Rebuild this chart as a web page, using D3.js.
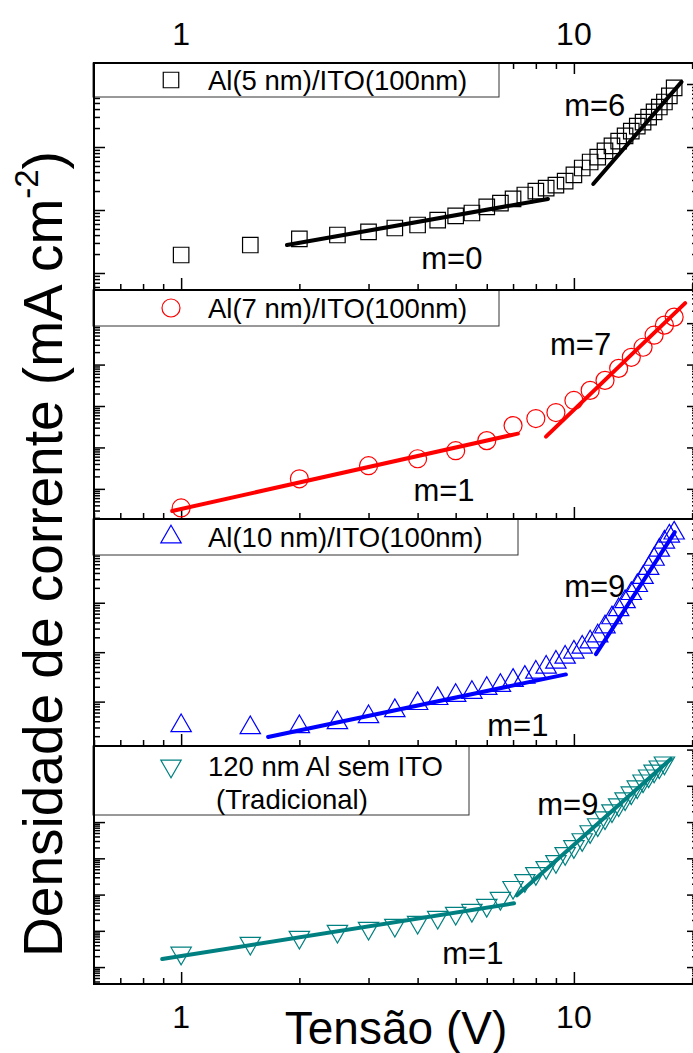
<!DOCTYPE html>
<html><head><meta charset="utf-8">
<script src="https://cdn.jsdelivr.net/npm/d3@7"></script>
<style>body{margin:0;background:#fff}svg{display:block}</style>
</head><body>
<script>
// ---------- data ----------
const xTickLabels = [1, 10];
const seriesNames = ["Al(5 nm)/ITO(100nm)", "Al(7 nm)/ITO(100nm)", "Al(10 nm)/ITO(100nm)", "120 nm Al sem ITO", "(Tradicional)"];

const volt1 = [1,1.5,2,2.5,3,3.5,4,4.5,5,5.5,6,6.5,7,7.5,8,8.5,9,9.5,10,10.5,11,11.5,12,12.5,13,13.5,14,14.5,15,15.5,16,16.5,17,17.5,18];
const curr1 = [1.93e-4,2.78e-4,3.47e-4,4.01e-4,4.48e-4,5.18e-4,5.78e-4,6.93e-4,8.04e-4,8.96e-4,1.12e-3,1.29e-3,1.50e-3,1.73e-3,2.00e-3,2.23e-3,2.49e-3,2.88e-3,3.60e-3,4.64e-3,5.78e-3,6.93e-3,8.65e-3,1.04e-2,1.24e-2,1.50e-2,1.79e-2,2.15e-2,2.49e-2,2.99e-2,3.60e-2,4.31e-2,5.18e-2,6.46e-2,8.65e-2];

const volt2 = [1,2,3,4,5,6,7,8,9,10,11,12,13,14,15,16,17,18];
const curr2 = [3.46e-5,1.75e-4,3.62e-4,5.33e-4,8.34e-4,1.46e-3,3.37e-3,4.98e-3,6.95e-3,1.36e-2,2.38e-2,4.15e-2,8.11e-2,0.150,0.262,0.512,0.895,1.40];

const volt3 = [1,1.5,2,2.5,3,3.5,4,4.5,5,5.5,6,6.5,7,7.5,8,8.5,9,9.5,10,10.5,11,11.5,12,12.5,13,13.5,14,14.5,15,15.5,16,16.5,17,17.5,18];
const curr3 = [3.24e-5,2.95e-5,3.09e-5,3.73e-5,4.94e-5,6.55e-5,9.10e-5,1.15e-4,1.33e-4,1.53e-4,1.84e-4,2.12e-4,2.68e-4,3.09e-4,3.91e-4,4.94e-4,6.25e-4,7.91e-4,1.0e-3,1.26e-3,1.60e-3,2.12e-3,3.24e-3,4.94e-3,7.20e-3,1.05e-2,1.53e-2,2.22e-2,3.24e-2,4.94e-2,7.55e-2,0.115,0.168,0.222,0.256];

const volt4 = [1,1.5,2,2.5,3,3.5,4,4.5,5,5.5,6,6.5,7,7.5,8,8.5,9,9.5,10,10.5,11,11.5,12,12.5,13,13.5,14,14.5,15,15.5,16,16.5,17];
const curr4 = [2.43e-4,4.56e-4,6.67e-4,9.75e-4,1.18e-3,1.43e-3,1.72e-3,2.37e-3,3.05e-3,3.68e-3,5.05e-3,7.87e-3,1.58e-2,2.45e-2,3.82e-2,5.59e-2,8.17e-2,0.136,0.211,0.328,0.545,0.849,1.32,2.06,3.01,4.40,6.42,9.39,13.7,18.8,25.8,33.3,42.9];

// fitted power-law segments [V, J]
const fit1 = [[[1.86,2.78e-4],[8.59,1.50e-3]], [[11.2,2.59e-3],[18.8,0.108]]];
const fit2 = [[[0.949,2.93e-5],[7.20,2.15e-3]], [[8.49,1.82e-3],[19.2,3.05]]];
const fit3 = [[[1.665,1.93e-5],[9.54,3.55e-4]], [[11.38,9.10e-4],[18.07,0.268]]];
const fit4 = [[[0.895,1.66e-4],[7.04,5.73e-3]], [[7.16,9.51e-3],[17.65,55.2]]];

// slope annotations [text, V, J]
const notes1 = [["m=6",11.3,4.48e-2],["m=0",4.89,1.73e-4]];
const notes2 = [["m=7",10.4,0.31],["m=1",4.67,8.95e-5]];
const notes3 = [["m=9",11.3,2.12e-2],["m=1",7.20,3.24e-5]];
const notes4 = [["m=9",9.65,3.0],["m=1",5.53,2.43e-4]];

// ---------- layout ----------
const W = 693, H = 1053;
const FONT = "'Liberation Sans', Arial, Helvetica, sans-serif";
const left = 94, right = 698;
const x = d3.scaleLog().domain([0.6, 20.7]).range([left, right]);

const panels = [
  {top:63,  bottom:290, e0:-4.2698, e1:-0.6667, v:volt1, j:curr1, fit:fit1, notes:notes1, color:"#000000", sym:"square",
   legend:{x1:93, x2:499, y1:63, y2:97, lines:[seriesNames[0]]}},
  {top:290, bottom:519, e0:-4.7273, e1:0.8,     v:volt2, j:curr2, fit:fit2, notes:notes2, color:"#ff0000", sym:"circle",
   legend:{x1:93, x2:499, y1:290, y2:326, lines:[seriesNames[1]]}},
  {top:519, bottom:746, e0:-4.898,  e1:-0.306,  v:volt3, j:curr3, fit:fit3, notes:notes3, color:"#0000ff", sym:"up",
   legend:{x1:93, x2:518, y1:519, y2:555, lines:[seriesNames[2]]}},
  {top:746, bottom:984, e0:-4.467,  e1:2.099,   v:volt4, j:curr4, fit:fit4, notes:notes4, color:"#008080", sym:"down",
   legend:{x1:93, x2:469, y1:746, y2:815, lines:[seriesNames[3], seriesNames[4]]}}
];

const svg = d3.select("body").append("svg").attr("width", W).attr("height", H)
  .style("font-family", FONT);

function marker(g, type, color, cx, cy) {
  if (type === "circle") {
    g.append("circle").attr("cx", cx).attr("cy", cy).attr("r", 9)
      .attr("fill", "none").attr("stroke", color).attr("stroke-width", 1.2);
  } else {
    const s = type === "square" ? d3.symbol(d3.symbolSquare, 240) : d3.symbol(d3.symbolTriangle, 180);
    g.append("path").attr("d", s())
      .attr("transform", `translate(${cx},${cy})` + (type === "down" ? " rotate(180)" : ""))
      .attr("fill", "none").attr("stroke", color).attr("stroke-width", 1.2);
  }
}

const xMinor = [0.6,0.7,0.8,0.9,2,3,4,5,6,7,8,9,20];
const xMajor = [1,10];

panels.forEach((p, i) => {
  const y = d3.scaleLog().domain([Math.pow(10, p.e0), Math.pow(10, p.e1)]).range([p.bottom, p.top]);
  const g = svg.append("g");
  const clipId = "clip" + i;
  svg.append("clipPath").attr("id", clipId).append("rect")
    .attr("x", left).attr("y", p.top).attr("width", right - left).attr("height", p.bottom - p.top);

  // y ticks
  const majors = [], minors = [];
  for (let e = Math.floor(p.e0); e <= Math.ceil(p.e1); e++) {
    for (let k = 1; k <= 9; k++) {
      const val = k * Math.pow(10, e);
      const lv = Math.log10(val);
      if (lv < p.e0 || lv > p.e1) continue;
      (k === 1 ? majors : minors).push(val);
    }
  }
  const axG = g.append("g");
  axG.append("g").attr("transform", `translate(${left},0)`).call(d3.axisRight(y).tickValues(majors).tickSize(11).tickFormat(""));
  axG.append("g").attr("transform", `translate(${left},0)`).call(d3.axisRight(y).tickValues(minors).tickSize(6).tickFormat(""));
  axG.append("g").attr("transform", `translate(${right},0)`).call(d3.axisLeft(y).tickValues(majors).tickSize(11).tickFormat(""));
  axG.append("g").attr("transform", `translate(${right},0)`).call(d3.axisLeft(y).tickValues(minors).tickSize(6).tickFormat(""));
  // x ticks on bottom (pointing up)
  axG.append("g").attr("transform", `translate(0,${p.bottom})`).call(d3.axisTop(x).tickValues(xMajor).tickSize(12).tickFormat(""));
  axG.append("g").attr("transform", `translate(0,${p.bottom})`).call(d3.axisTop(x).tickValues(xMinor).tickSize(6).tickFormat(""));
  if (i === 0) {
    axG.append("g").attr("transform", `translate(0,${p.top})`).call(d3.axisBottom(x).tickValues(xMajor).tickSize(11).tickFormat(""));
    axG.append("g").attr("transform", `translate(0,${p.top})`).call(d3.axisBottom(x).tickValues(xMinor).tickSize(6).tickFormat(""));
  }
  axG.selectAll(".domain").remove();
  axG.selectAll("line").attr("stroke", "#000").attr("stroke-width", 1.5);

  // data markers
  const dg = g.append("g").attr("clip-path", `url(#${clipId})`);
  p.v.forEach((v, k) => marker(dg, p.sym, p.color, x(v), y(p.j[k])));

  // fit lines
  const line = d3.line().x(d => x(d[0])).y(d => y(d[1]));
  p.fit.forEach(seg => {
    dg.append("path").attr("d", line(seg)).attr("fill", "none")
      .attr("stroke", p.color).attr("stroke-width", 4).attr("stroke-linecap", "round");
  });

  // slope labels
  p.notes.forEach(n => {
    g.append("text").attr("x", x(n[1])).attr("y", y(n[2]))
      .attr("text-anchor", "middle").attr("dominant-baseline", "central")
      .attr("font-size", 31).attr("fill", "#000").text(n[0]);
  });

  // legend
  const L = p.legend;
  g.append("rect").attr("x", L.x1).attr("y", L.y1).attr("width", L.x2 - L.x1).attr("height", L.y2 - L.y1)
    .attr("fill", "#fff").attr("stroke", "#333").attr("stroke-width", 1);
  const ly = L.lines.length === 1 ? (L.y1 + L.y2) / 2 : L.y1 + 20;
  marker(g, p.sym, p.color, 171, ly);
  L.lines.forEach((t, k) => {
    g.append("text").attr("x", k === 0 ? 208 : 216).attr("y", ly + k * 33)
      .attr("dominant-baseline", "central").attr("font-size", 27.5).attr("fill", "#000").text(t);
  });
});

// frame lines
const frame = svg.append("g").attr("stroke", "#000").attr("stroke-width", 2);
frame.append("line").attr("x1", left).attr("x2", left).attr("y1", 63).attr("y2", 985);
frame.append("line").attr("x1", right).attr("x2", right).attr("y1", 63).attr("y2", 985);
[63, 290, 519, 746, 984].forEach(yy => {
  frame.append("line").attr("x1", left - 1).attr("x2", right).attr("y1", yy).attr("y2", yy);
});

// x tick labels top and bottom
xTickLabels.forEach(v => {
  svg.append("text").attr("x", x(v)).attr("y", 45).attr("text-anchor", "middle")
    .attr("font-size", 32).text(v);
  svg.append("text").attr("x", x(v)).attr("y", 1028).attr("text-anchor", "middle")
    .attr("font-size", 32).text(v);
});

// axis titles
svg.append("text").attr("x", (left + right) / 2).attr("y", 1044).attr("text-anchor", "middle")
  .attr("font-size", 46).text("Tensão (V)");

const yl = svg.append("text").attr("transform", "translate(62,554) rotate(-90)")
  .attr("text-anchor", "middle").attr("font-size", 55);
yl.append("tspan").text("Densidade de corrente (mA cm");
yl.append("tspan").attr("font-size", 33).attr("dy", -24).text("-2");
yl.append("tspan").attr("dy", 24).text(")");
</script>
</body></html>
